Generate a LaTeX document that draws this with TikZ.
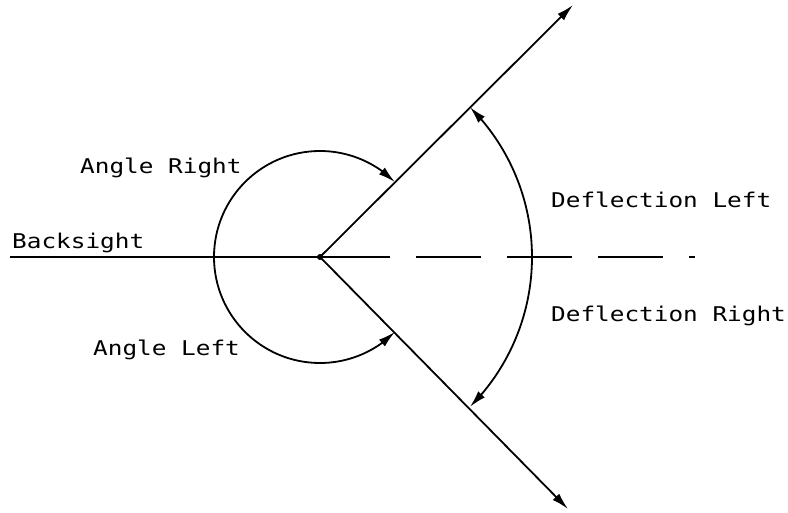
\documentclass[tikz,border=0pt]{standalone}
\usepackage{fontspec}
\setmainfont{DejaVu Sans Mono}[FakeStretch=1.2]
\usetikzlibrary{arrows.meta,bending}
\begin{document}
\begin{tikzpicture}[x=1pt,y=1pt,
  ln/.style={line width=1.8pt},
  tip/.style={-{Latex[length=17pt,width=9pt,flex]}},
  lbl/.style={anchor=base west,inner sep=0pt,font=\fontsize{20.3}{24}\selectfont}]
\useasboundingbox (0,0) rectangle (788,512);
\node[circle,fill,inner sep=0pt,minimum size=6pt] (O) at (320,255) {};
\coordinate (B) at (10,255);
\coordinate (U) at (573,507);
\coordinate (L) at (568,3);
\coordinate (D1) at (390,255);
\coordinate (D2) at (416,255);
\coordinate (D3) at (695,255);
% lines
\draw[ln] (B) -- (O.center);
\draw[ln,tip] (O.center) -- (U);
\draw[ln,tip] (O.center) -- (L);
\draw[ln] (O.center) -- (D1);
\draw[ln,dash pattern=on 65pt off 26pt] (D2) -- (D3);
% angle arcs
\draw[ln,tip] (O.center) ++(180:106) arc[start angle=180,end angle=45,radius=106];
\draw[ln,tip] (O.center) ++(180:106) arc[start angle=180,end angle=315,radius=106];
% deflection arcs
\draw[ln,tip] (O.center) ++(0:212) arc[start angle=0,end angle=45,radius=212];
\draw[ln,tip] (O.center) ++(0:212) arc[start angle=0,end angle=-45,radius=212];
% labels
\node[lbl] (t1) at (80,338) {Angle Right};
\node[lbl] (t2) at (12,263) {Backsight};
\node[lbl] (t3) at (93,156) {Angle Left};
\node[lbl] (t4) at (551,304) {Deflection Left};
\node[lbl] (t5) at (551,190) {Deflection Right};
\end{tikzpicture}
\end{document}
